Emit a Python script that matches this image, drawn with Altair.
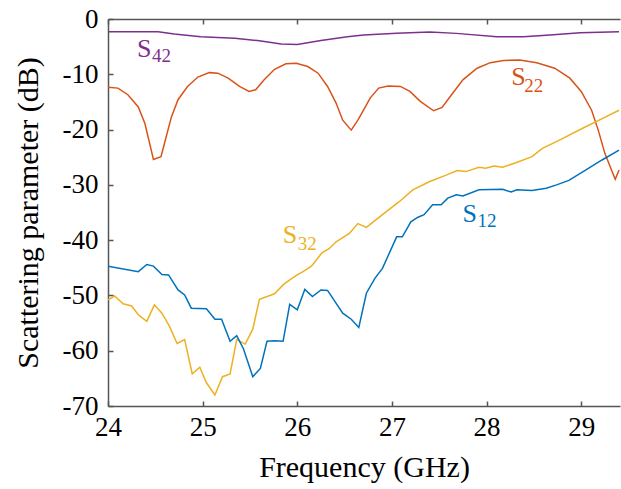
import altair as alt
import pandas as pd

# ---- data ----
s42_f = [24.0, 24.53, 24.70, 24.98, 25.34, 25.58, 25.83, 26.0, 26.25, 26.53, 26.7, 27.05, 27.4, 27.68,
         28.11, 28.39, 28.67, 28.99, 29.4]
s42_v = [-2.3, -2.3, -2.7, -3.2, -3.5, -3.9, -4.5, -4.6, -3.9, -3.2, -2.9, -2.6, -2.35, -2.6,
         -3.2, -3.2, -2.9, -2.5, -2.3]

s22_f = [24.0, 24.105, 24.21, 24.32, 24.39, 24.44, 24.48, 24.56, 24.615, 24.67, 24.74, 24.84, 24.95,
         25.07, 25.16, 25.27, 25.39, 25.49, 25.56, 25.65, 25.76, 25.88, 25.99, 26.11, 26.22, 26.32,
         26.41, 26.48, 26.57, 26.64, 26.70, 26.77, 26.86, 26.96, 27.09, 27.19, 27.30, 27.44, 27.53,
         27.63, 27.75, 27.90, 28.04, 28.18, 28.35, 28.53, 28.72, 28.88, 29.0, 29.11, 29.18, 29.25,
         29.32, 29.36, 29.4]
s22_v = [-12.35, -12.5, -13.7, -15.9, -18.9, -22.5, -25.4, -24.9, -21.3, -17.7, -14.6, -12.2, -10.5,
         -9.7, -9.8, -10.7, -12.2, -13.1, -12.8, -11.0, -9.1, -8.1, -8.0, -8.6, -9.8, -12.2,
         -15.2, -18.3, -20.1, -18.3, -16.5, -14.3, -12.5, -12.1, -12.2, -13.1, -14.9, -16.6, -16.0,
         -13.7, -11.0, -8.9, -7.9, -7.5, -7.4, -7.9, -8.9, -10.7, -13.1, -16.5, -20.1, -24.3,
         -27.3, -29.0, -27.3]

s32_f = [24.0, 24.07, 24.16, 24.25, 24.32, 24.41, 24.49, 24.57, 24.65, 24.73, 24.81, 24.89, 24.97, 25.04,
         25.13, 25.21, 25.29, 25.36, 25.45, 25.53, 25.6, 25.76, 25.85, 25.92, 26.0, 26.06, 26.15, 26.26,
         26.34, 26.41, 26.55, 26.64, 26.73, 26.9, 27.08, 27.22, 27.4, 27.58, 27.69, 27.78, 27.92, 27.99,
         28.08, 28.17, 28.31, 28.48, 28.59, 28.77, 29.01, 29.19, 29.4]
s32_v = [-50.8, -50.1, -51.5, -51.9, -53.5, -54.7, -51.7, -53.2, -55.6, -58.7, -58.0, -64.2, -63.0, -65.8,
         -68.0, -64.7, -64.2, -58.0, -58.8, -56.1, -50.7, -49.7, -48.1, -47.2, -46.3, -45.7, -44.7, -42.3,
         -41.5, -40.3, -38.8, -37.0, -37.7, -35.4, -33.0, -30.9, -29.4, -28.2, -27.4, -27.6, -26.8, -27.0,
         -26.6, -26.8, -26.0, -24.9, -23.4, -21.9, -19.8, -18.3, -16.5]

s12_f = [24.0, 24.32, 24.41, 24.48, 24.57, 24.64, 24.74, 24.81, 24.88, 25.04, 25.13, 25.2, 25.29, 25.36,
         25.43, 25.53, 25.61, 25.68, 25.76, 25.85, 25.92, 26.0, 26.08, 26.16, 26.25, 26.32, 26.48, 26.57,
         26.65, 26.73, 26.82, 26.9, 27.05, 27.11, 27.2, 27.27, 27.34, 27.43, 27.52, 27.59, 27.68, 27.75,
         27.92, 28.17, 28.26, 28.32, 28.48, 28.63, 28.74, 28.87, 29.05, 29.22, 29.4]
s12_v = [-44.7, -45.7, -44.4, -44.7, -46.2, -46.3, -49.0, -49.9, -52.3, -52.4, -54.3, -54.3, -58.3, -57.3,
         -59.6, -64.7, -63.2, -58.3, -58.2, -58.3, -51.6, -52.6, -48.9, -50.2, -49.0, -49.1, -53.2, -54.3,
         -55.8, -49.6, -46.9, -45.1, -39.4, -39.4, -36.7, -35.9, -35.4, -33.6, -33.6, -32.4, -31.8, -32.0,
         -30.9, -30.8, -31.3, -30.9, -31.0, -30.6, -30.0, -29.2, -27.3, -25.5, -23.7]

series = ["S42", "S22", "S32", "S12"]
colors = ["#7E2F8E", "#D95319", "#EDB120", "#0072BD"]

label_main = ["S", "S", "S", "S"]
label_sub = ["42", "22", "32", "12"]
label_x = [24.306, 28.262, 25.846, 27.745]
label_y = [-6.9, -11.9, -40.5, -36.7]
sub_x = [24.464, 28.399, 26.004, 27.903]
sub_y = [-7.8, -13.2, -41.8, -37.6]

x_ticks = [24, 25, 26, 27, 28, 29]
y_ticks = [0, -10, -20, -30, -40, -50, -60, -70]

# ---- tables ----
rows = []
for name, f, v in [("S42", s42_f, s42_v), ("S22", s22_f, s22_v), ("S32", s32_f, s32_v), ("S12", s12_f, s12_v)]:
    for a, b in zip(f, v):
        rows.append({"series": name, "freq": a, "db": b})
df = pd.DataFrame(rows)

lab = pd.DataFrame({"series": series, "main": label_main, "sub": label_sub,
                    "x": label_x, "y": label_y, "sx": sub_x, "sy": sub_y})

W, H = 512, 387
FONT = "Liberation Serif"
AXCOL = "#555555"

xs = alt.Scale(domain=[24, 29.41], nice=False, zero=False)
ys = alt.Scale(domain=[-70, 0], nice=False, zero=False)
cs = alt.Scale(domain=series, range=colors)

lines = alt.Chart(df).mark_line(strokeWidth=1.5, clip=True).encode(
    x=alt.X("freq:Q", scale=xs, title="Frequency (GHz)",
            axis=alt.Axis(orient="bottom", values=x_ticks, ticks=False, tickSize=0, grid=False,
                          domainColor=AXCOL, domainWidth=1.5, labelFont=FONT, labelFontSize=27,
                          labelColor="black", labelPadding=8, labelFlush=False,
                          titleFont=FONT, titleFontSize=30, titleFontWeight="normal",
                          titleColor="black", titlePadding=12, labelExpr="toString(datum.value)")),
    y=alt.Y("db:Q", scale=ys, title="Scattering parameter (dB)",
            axis=alt.Axis(orient="left", values=y_ticks, ticks=False, tickSize=0, grid=False,
                          domainColor=AXCOL, domainWidth=1.5, labelFont=FONT, labelFontSize=27,
                          labelColor="black", labelPadding=10, labelFlush=False,
                          titleFont=FONT, titleFontSize=30, titleFontWeight="normal",
                          titleColor="black", titlePadding=19, labelExpr="toString(datum.value)")),
    color=alt.Color("series:N", scale=cs, legend=None),
    detail="series:N",
)

# inward ticks on bottom and left edges
ticks_in = alt.Chart(df).mark_line(opacity=0).encode(
    x=alt.X("freq:Q", scale=xs, title=None,
            axis=alt.Axis(orient="top", offset=-H, values=x_ticks, labels=False, domain=False,
                          grid=False, ticks=True, tickSize=5, tickColor=AXCOL, tickWidth=1.5)),
    y=alt.Y("db:Q", scale=ys, title=None,
            axis=alt.Axis(orient="right", offset=-W, values=y_ticks, labels=False, domain=False,
                          grid=False, ticks=True, tickSize=5, tickColor=AXCOL, tickWidth=1.5)),
    detail="series:N",
)

# top border with inward ticks
top_border = alt.Chart(df).mark_line(opacity=0).encode(
    x=alt.X("freq:Q", scale=xs, title=None,
            axis=alt.Axis(orient="bottom", offset=-H, values=x_ticks, labels=False, domain=True,
                          domainColor=AXCOL, domainWidth=1.5,
                          grid=False, ticks=True, tickSize=5, tickColor=AXCOL, tickWidth=1.5)),
    y=alt.Y("db:Q", scale=ys, axis=None),
    detail="series:N",
)

text_main = alt.Chart(lab).mark_text(align="left", baseline="alphabetic", font=FONT, fontSize=26).encode(
    x=alt.X("x:Q", scale=xs, axis=None),
    y=alt.Y("y:Q", scale=ys, axis=None),
    text="main:N",
    color=alt.Color("series:N", scale=cs, legend=None),
)
text_sub = alt.Chart(lab).mark_text(align="left", baseline="alphabetic", font=FONT, fontSize=19).encode(
    x=alt.X("sx:Q", scale=xs, axis=None),
    y=alt.Y("sy:Q", scale=ys, axis=None),
    text="sub:N",
    color=alt.Color("series:N", scale=cs, legend=None),
)

chart = alt.layer(lines, ticks_in, top_border, text_main, text_sub).resolve_axis(
    x="independent", y="independent"
).properties(
    width=W, height=H,
    autosize=alt.AutoSizeParams(type="none"),
    padding={"left": 108, "top": 19, "right": 1, "bottom": 83},
    background="white",
).configure_view(stroke=None)

chart.save("out.html", embed_options={"renderer": "svg", "actions": False})
